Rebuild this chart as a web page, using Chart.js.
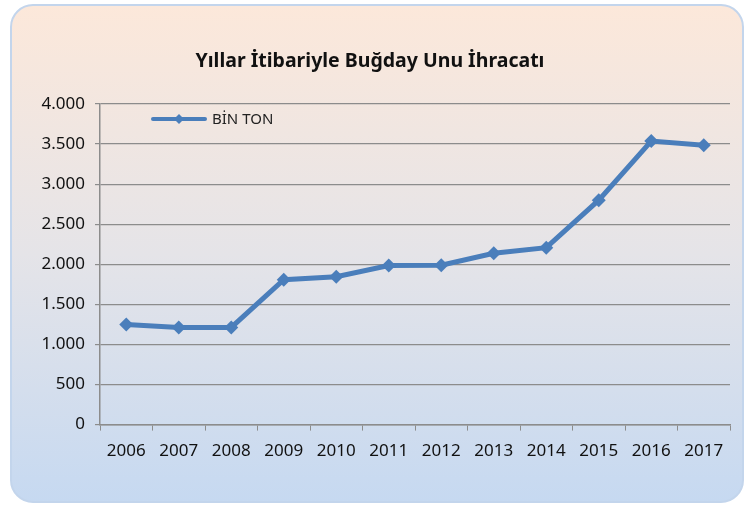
<!DOCTYPE html>
<html>
<head>
<meta charset="utf-8">
<script src="https://cdn.jsdelivr.net/npm/chart.js@4"></script>
<style>
  html, body { margin: 0; padding: 0; background: #fff; }
  #wrap { width: 745px; height: 509px; }
</style>
</head>
<body>
<div id="wrap"><canvas id="myChart" width="745" height="509"></canvas></div>
<script>
/* globals Chart:false */
const years = ["2006", "2007", "2008", "2009", "2010", "2011", "2012", "2013", "2014", "2015", "2016", "2017"];
const binTon = [1248, 1212, 1212, 1808, 1845, 1985, 1988, 2138, 2208, 2800, 3538, 3485];
const seriesName = "BİN TON";
const chartTitle = "Yıllar İtibariyle Buğday Unu İhracatı";

const lineColor = "#4a7ebb";
const fontFamily = "'Noto Sans', 'Open Sans', sans-serif";

// thousands with a dot, like the Turkish Excel original
const fmt = (v) => String(v).replace(/\B(?=(\d{3})+(?!\d))/g, ".");

// rounded frame with the peach -> blue gradient
const frame = {
    id: "frame",
    beforeDraw(chart) {
        const c = chart.ctx;
        const x = 11, y = 5, w = 732, h = 497, r = 22;
        const g = c.createLinearGradient(0, y, 0, y + h);
        g.addColorStop(0, "#fce8da");
        g.addColorStop(0.5, "#e5e4e8");
        g.addColorStop(1, "#c6d9f1");
        c.save();
        c.beginPath();
        c.roundRect(x, y, w, h, r);
        c.fillStyle = g;
        c.fill();
        c.lineWidth = 2;
        c.strokeStyle = "#c3d5ec";
        c.stroke();
        c.restore();
    },
};

// legend drawn inside the plot, top-left
const innerLegend = {
    id: "innerLegend",
    afterDraw(chart) {
        const c = chart.ctx;
        const ds = chart.data.datasets[0];
        const x0 = chart.chartArea.left + 53;
        const y0 = chart.chartArea.top + 15;
        c.save();
        c.strokeStyle = ds.borderColor;
        c.lineWidth = 4;
        c.lineCap = "round";
        c.beginPath();
        c.moveTo(x0, y0);
        c.lineTo(x0 + 52, y0);
        c.stroke();
        c.fillStyle = ds.borderColor;
        c.beginPath();
        c.moveTo(x0 + 26, y0 - 5);
        c.lineTo(x0 + 31, y0);
        c.lineTo(x0 + 26, y0 + 5);
        c.lineTo(x0 + 21, y0);
        c.closePath();
        c.fill();
        c.fillStyle = "#222";
        c.font = "15px " + fontFamily;
        c.textBaseline = "middle";
        c.fillText(ds.label, x0 + 59, y0 + 1);
        c.restore();
    },
};

const ctx = document.getElementById("myChart");
// eslint-disable-next-line no-unused-vars
const myChart = new Chart(ctx, {
    type: "line",
    data: {
        labels: years,
        datasets: [
            {
                label: seriesName,
                data: binTon,
                borderColor: lineColor,
                backgroundColor: lineColor,
                borderWidth: 5,
                lineTension: 0,
                pointStyle: "rectRot",
                pointRadius: 7,
                pointBackgroundColor: lineColor,
                pointBorderWidth: 0,
            },
        ],
    },
    options: {
        responsive: false,
        animation: false,
        layout: { padding: { top: 10, left: 10, right: 15, bottom: 38 } },
        plugins: {
            legend: { display: false },
            tooltip: { enabled: false },
            title: {
                display: true,
                text: chartTitle,
                color: "#111",
                font: { family: fontFamily, size: 19.5, weight: "bold" },
                padding: { top: 40, bottom: 30.6 },
            },
        },
        scales: {
            x: {
                offset: true,
                grid: {
                    offset: true,
                    drawOnChartArea: false,
                    tickLength: 6,
                    color: "#8c8c8c",
                },
                border: { color: "#8c8c8c", width: 1.5 },
                ticks: {
                    color: "#111",
                    font: { family: fontFamily, size: 17 },
                    padding: 10,
                    maxRotation: 0,
                    autoSkip: false,
                },
            },
            y: {
                min: 0,
                max: 4000,
                afterFit(scale) {
                    scale.width = 90;
                },
                grid: { color: "#8c8c8c", lineWidth: 1.2, tickLength: 5 },
                border: { color: "#8c8c8c", width: 1.5 },
                ticks: {
                    stepSize: 500,
                    color: "#111",
                    font: { family: fontFamily, size: 17 },
                    padding: 10,
                    callback: (v) => fmt(v),
                },
            },
        },
    },
    plugins: [frame, innerLegend],
});
</script>
</body>
</html>
